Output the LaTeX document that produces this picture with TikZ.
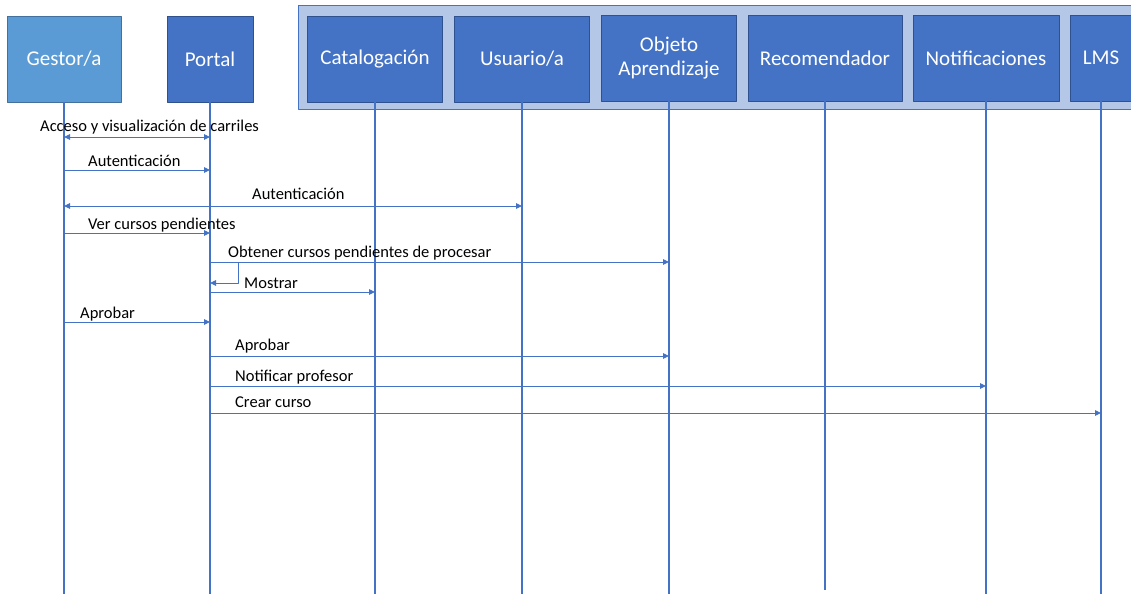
\documentclass[tikz,border=0pt]{standalone}
\usepackage{fontspec}
\setmainfont{Carlito}
\usetikzlibrary{arrows.meta}
\definecolor{gestorfill}{HTML}{5B9BD5}
\definecolor{gestorline}{HTML}{41719C}
\definecolor{boxfill}{HTML}{4472C4}
\definecolor{boxline}{HTML}{2F528F}
\definecolor{groupfill}{HTML}{B4C7E7}
\definecolor{lifecol}{HTML}{4472C4}
\begin{document}
\begin{tikzpicture}[x=1pt,y=-1pt,line join=round,>={Triangle[length=6pt,width=5.5pt]}]
	\tikzset{actor/.style={draw=boxline,fill=boxfill,text=white,line width=0.8pt,minimum height=86pt,inner sep=2pt,align=center,font=\fontsize{21}{24.5}\selectfont},
		lifeline/.style={draw=lifecol,line width=1.2pt},
		msg/.style={draw=lifecol,line width=0.9pt},
		lbl/.style={anchor=base west,inner sep=0pt,font=\fontsize{16.5}{18}\selectfont}}
	\useasboundingbox (0,0) rectangle (1131,594);
	% grupo de servicios
	\fill[groupfill,draw=lifecol,line width=1pt] (298,6) rectangle (1145,109);
	% cajas
	\node[actor,fill=gestorfill,draw=gestorline,minimum width=114pt] (gestor) at (64,59) {Gestor/a};
	\node[actor,minimum width=86pt] (portal) at (210,59) {Portal};
	\node[actor,minimum width=135pt] (catalogo) at (375,59) {Catalogación};
	\node[actor,minimum width=135pt] (usuario) at (522,59) {Usuario/a};
	\node[actor,minimum width=135pt] (objeto) at (669,58) {Objeto\\Aprendizaje};
	\node[actor,minimum width=154pt] (recom) at (825,58) {Recomendador};
	\node[actor,minimum width=146pt] (notif) at (986,58) {Notificaciones};
	\node[actor,minimum width=62pt] (lms) at (1101,58) {LMS};
	% lineas de vida
	\draw[lifeline] (gestor.south) -- (gestor |- 0,594);
	\draw[lifeline] (portal.south) -- (portal |- 0,594);
	\draw[lifeline] (catalogo.south) -- (catalogo |- 0,594);
	\draw[lifeline] (usuario.south) -- (usuario |- 0,594);
	\draw[lifeline] (objeto.south) -- (objeto |- 0,594);
	\draw[lifeline] (recom.south) -- (recom |- 0,590);
	\draw[lifeline] (notif.south) -- (notif |- 0,594);
	\draw[lifeline] (lms.south) -- (lms |- 0,594);
	% mensajes
	\draw[msg,<->] (gestor |- 0,137) -- (portal |- 0,137);
	\node[lbl] (m1) at (40,131) {Acceso y visualización de carriles};
	\draw[msg,->] (gestor |- 0,170) -- (portal |- 0,170);
	\node[lbl] (m2) at (88,166) {Autenticación};
	\draw[msg,<->] (gestor |- 0,206) -- (usuario |- 0,206);
	\node[lbl] (m3) at (252,199) {Autenticación};
	\draw[msg,->] (gestor |- 0,233) -- (portal |- 0,233);
	\node[lbl] (m4) at (88,229) {Ver cursos pendientes};
	\draw[msg,->] (portal |- 0,262) -- (objeto |- 0,262);
	\node[lbl] (m5) at (228,257) {Obtener cursos pendientes de procesar};
	\coordinate (bend) at (238,262);
	\draw[msg,->] (bend) |- (portal |- 0,283);
	\node[lbl] (m6) at (244,288) {Mostrar};
	\draw[msg,->] (portal |- 0,292) -- (catalogo |- 0,292);
	\draw[msg,->] (gestor |- 0,322) -- (portal |- 0,322);
	\node[lbl] (m7) at (80,318) {Aprobar};
	\draw[msg,->] (portal |- 0,356) -- (objeto |- 0,356);
	\node[lbl] (m8) at (235,350) {Aprobar};
	\draw[msg,->] (portal |- 0,386) -- (notif |- 0,386);
	\node[lbl] (m9) at (235,381) {Notificar profesor};
	\draw[msg,->] (portal |- 0,413) -- (lms |- 0,413);
	\node[lbl] (m10) at (235,407) {Crear curso};
\end{tikzpicture}
\end{document}
